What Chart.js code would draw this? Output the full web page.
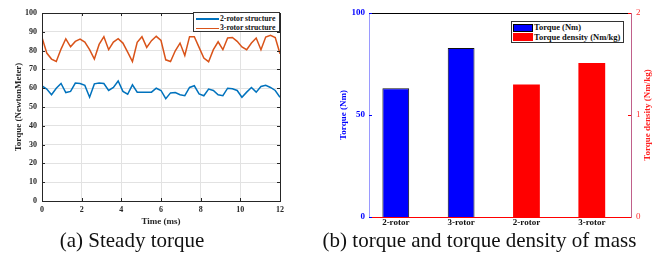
<!DOCTYPE html>
<html>
<head>
<meta charset="utf-8">
<script src="https://cdn.jsdelivr.net/npm/chart.js@4/dist/chart.umd.min.js"></script>
<style>
  body { margin: 0; width: 668px; height: 255px; background: #fff; position: relative; overflow: hidden; font-family: "Liberation Serif", "Times New Roman", serif; }
  .box { position: absolute; }
  .legend { position: absolute; background: #fff; border: 1px solid #333; box-sizing: border-box; font-weight: bold; color: #111; }
  .legend .row { position: absolute; white-space: nowrap; }
  .caption { position: absolute; top: 230px; font-size: 21px; line-height: 21px; text-align: center; color: #111; white-space: nowrap; }
</style>
</head>
<body>
<div class="box" style="left:0;top:0;width:300px;height:232px"><canvas id="chartTorque"></canvas></div>
<div class="box" style="left:300px;top:0;width:368px;height:232px"><canvas id="chartBars"></canvas></div>

<div class="legend" style="left:193px;top:12px;width:87px;height:20px;font-size:7.7px">
  <div style="position:absolute;left:2px;top:5px;width:23px;height:1.5px;background:#0072BD"></div>
  <div class="row" style="left:26px;top:1px">2-rotor structure</div>
  <div style="position:absolute;left:2px;top:14.5px;width:23px;height:1.5px;background:#D95319"></div>
  <div class="row" style="left:26px;top:10px">3-rotor structure</div>
</div>

<div class="legend" style="left:511px;top:21px;width:113px;height:22px;font-size:8.5px">
  <div style="position:absolute;left:1px;top:1.5px;width:20px;height:8px;background:#0000ff;border:1px solid #000;box-sizing:border-box"></div>
  <div class="row" style="left:22px;top:0px">Torque (Nm)</div>
  <div style="position:absolute;left:1px;top:11px;width:20px;height:8px;background:#ff0000"></div>
  <div class="row" style="left:22px;top:10px">Torque density (Nm/kg)</div>
</div>

<div class="caption" style="left:0;width:264px">(a) Steady torque</div>
<div class="caption" style="left:310px;width:339px">(b) torque and torque density of mass</div>

<script>
const serif = '"Liberation Serif", "Times New Roman", serif';

// (a) steady torque
const timeMs = [0, 0.24, 0.48, 0.72, 0.96, 1.2, 1.44, 1.68, 1.92, 2.16, 2.4, 2.64, 2.88, 3.12, 3.36, 3.6, 3.84,
  4.08, 4.32, 4.56, 4.8, 5.04, 5.28, 5.52, 5.76, 6, 6.24, 6.48, 6.72, 6.96, 7.2, 7.44, 7.68, 7.92, 8.16, 8.4,
  8.64, 8.88, 9.12, 9.36, 9.6, 9.84, 10.08, 10.32, 10.56, 10.8, 11.04, 11.28, 11.52, 11.76, 12];
const rotor2 = [61.3, 59.5, 56.5, 60, 62.5, 57.7, 58.3, 62.7, 62.5, 61.5, 55.2, 62.3, 62.7, 62.5, 58.8, 60.4, 63.8,
  58.3, 56.8, 61.8, 57.9, 57.9, 57.9, 57.9, 60, 58.8, 54.4, 57.5, 57.7, 56.5, 56, 60.4, 61.3, 57, 56, 59.5,
  58.8, 56.5, 56, 60, 59.7, 58.8, 55.2, 57.9, 60.4, 57.9, 60.9, 61.5, 60.4, 58.8, 55.2];
const rotor3 = [87, 78.7, 75.5, 74.2, 80.8, 86.3, 82, 84.9, 86.1, 84.5, 80.5, 75.5, 83.3, 87.4, 80.5, 84.5, 86.3,
  84, 79.2, 74.2, 84.4, 87.4, 81.7, 85.3, 87.6, 85.4, 75.1, 74.2, 79.9, 84, 77.4, 87.4, 87.4, 81.7, 76, 74.1,
  80.5, 84.7, 80.5, 86.7, 87, 84.9, 81.9, 80.5, 84, 86.7, 80.5, 87.2, 88.1, 87, 78.3];

// (b) torque and torque density
const categories = ['2-rotor', '3-rotor', '2-rotor', '3-rotor'];
const torqueNm = [63.1, 82.8];          // bars 1-2, left axis
const torqueDensity = [1.30, 1.51];     // bars 3-4, right axis

const boxTicks = {
  id: 'boxTicks',
  afterDraw(chart) {
    const {ctx, chartArea: a, scales} = chart;
    ctx.save();
    ctx.strokeStyle = '#262626';
    ctx.lineWidth = 1;
    ctx.strokeRect(Math.round(a.left) + 0.5, Math.round(a.top) + 0.5, Math.round(a.right - a.left), Math.round(a.bottom - a.top));
    ctx.beginPath();
    scales.y.ticks.forEach(t => {
      const p = Math.round(scales.y.getPixelForValue(t.value)) + 0.5;
      ctx.moveTo(a.left, p); ctx.lineTo(a.left + 3, p);
      ctx.moveTo(a.right, p); ctx.lineTo(a.right - 3, p);
    });
    scales.x.ticks.forEach(t => {
      const p = Math.round(scales.x.getPixelForValue(t.value)) + 0.5;
      ctx.moveTo(p, a.bottom); ctx.lineTo(p, a.bottom - 3);
      ctx.moveTo(p, a.top); ctx.lineTo(p, a.top + 3);
    });
    ctx.stroke();
    ctx.restore();
  }
};

new Chart(document.getElementById('chartTorque'), {
  type: 'line',
  data: {
    datasets: [
      { label: '2-rotor structure', data: timeMs.map((t, i) => ({x: t, y: rotor2[i]})), borderColor: '#0072BD', borderWidth: 1.5, pointRadius: 0 },
      { label: '3-rotor structure', data: timeMs.map((t, i) => ({x: t, y: rotor3[i]})), borderColor: '#D95319', borderWidth: 1.5, pointRadius: 0 }
    ]
  },
  options: {
    responsive: true,
    maintainAspectRatio: false,
    animation: false,
    layout: { padding: { left: 0, top: 13, right: 20, bottom: 0 } },
    plugins: { legend: { display: false }, tooltip: { enabled: false } },
    scales: {
      x: {
        type: 'linear', min: 0, max: 12,
        afterFit: s => { s.height = 31; },
        ticks: { stepSize: 2, color: '#262626', padding: 4, maxRotation: 0, font: { family: serif, size: 8, weight: 'bold' } },
        grid: { color: '#e2e2e2', drawTicks: false },
        border: { color: '#262626' },
        title: { display: true, text: 'Time (ms)', color: '#262626', padding: { top: 0, bottom: 5 }, font: { family: serif, size: 9, weight: 'bold' } }
      },
      y: {
        min: 0, max: 100,
        afterFit: s => { s.width = 42; },
        ticks: { stepSize: 10, color: '#262626', padding: 5, font: { family: serif, size: 8, weight: 'bold' } },
        grid: { color: '#e2e2e2', drawTicks: false },
        border: { color: '#262626' },
        title: { display: true, text: 'Torque (NewtonMeter)', color: '#262626', padding: { top: 13, bottom: 0 }, font: { family: serif, size: 9, weight: 'bold' } }
      }
    }
  },
  plugins: [boxTicks]
});

const barFrame = {
  id: 'barFrame',
  afterDraw(chart) {
    const {ctx, chartArea: a, scales} = chart;
    ctx.save();
    ctx.lineWidth = 1;
    ctx.strokeStyle = '#000';
    ctx.beginPath();
    ctx.moveTo(a.left, Math.round(a.top) + 0.5); ctx.lineTo(a.right, Math.round(a.top) + 0.5);
    ctx.stroke();
    ctx.strokeStyle = '#0000ff';
    ctx.beginPath();
    scales.y.ticks.forEach(t => {
      const p = Math.round(scales.y.getPixelForValue(t.value)) + 0.5;
      ctx.moveTo(a.left, p); ctx.lineTo(a.left + 3, p);
    });
    ctx.stroke();
    ctx.strokeStyle = '#ff0000';
    ctx.beginPath();
    scales.y1.ticks.forEach(t => {
      const p = Math.round(scales.y1.getPixelForValue(t.value)) + 0.5;
      ctx.moveTo(a.right, p); ctx.lineTo(a.right - 3, p);
    });
    ctx.stroke();
    // right axis title, read bottom to top
    ctx.fillStyle = '#ff2020';
    ctx.font = 'bold 9px ' + serif;
    ctx.textAlign = 'center';
    ctx.textBaseline = 'middle';
    ctx.translate(348, (a.top + a.bottom) / 2);
    ctx.rotate(-Math.PI / 2);
    ctx.fillText('Torque density (Nm/kg)', 0, 0);
    ctx.restore();
  }
};

const positions = categories.map((c, i) => i + 1);

new Chart(document.getElementById('chartBars'), {
  type: 'bar',
  data: {
    datasets: [
      { label: 'Torque (Nm)', data: torqueNm.map((v, i) => ({x: positions[i], y: v})), yAxisID: 'y',
        backgroundColor: '#0000ff', borderColor: '#111', borderWidth: 1 },
      { label: 'Torque density (Nm/kg)', data: torqueDensity.map((v, i) => ({x: positions[i + 2], y: v})), yAxisID: 'y1',
        backgroundColor: '#ff0000', borderColor: '#ff0000', borderWidth: 0 }
    ]
  },
  options: {
    responsive: true,
    maintainAspectRatio: false,
    animation: false,
    grouped: false,
    categoryPercentage: 1,
    barPercentage: 0.41,
    layout: { padding: { left: 0, top: 13, right: 0, bottom: 0 } },
    plugins: { legend: { display: false }, tooltip: { enabled: false } },
    scales: {
      x: {
        type: 'linear', min: 0.59, max: 4.6, offset: false,
        afterFit: s => { s.height = 15; },
        afterBuildTicks: s => { s.ticks = positions.map(v => ({value: v})); },
        ticks: { color: '#111', padding: 0, maxRotation: 0, autoSkip: false,
          callback: v => categories[v - 1], font: { family: serif, size: 9, weight: 'bold' } },
        grid: { display: false, drawTicks: false, offset: false },
        border: { color: '#ff0000' }
      },
      y: {
        position: 'left', min: 0, max: 100,
        afterFit: s => { s.width = 69; },
        ticks: { stepSize: 50, color: '#0000ff', padding: 4, font: { family: serif, size: 9, weight: 'bold' } },
        grid: { display: false, drawTicks: false },
        border: { color: '#9a9aff' },
        title: { display: true, text: 'Torque (Nm)', color: '#0000ff', padding: { top: 38, bottom: 0 }, font: { family: serif, size: 9, weight: 'bold' } }
      },
      y1: {
        position: 'right', min: 0, max: 2,
        afterFit: s => { s.width = 37; },
        ticks: { stepSize: 1, color: '#ff3030', padding: 5, font: { family: serif, size: 9 } },
        grid: { display: false, drawTicks: false },
        border: { color: '#c0608a' }
      }
    }
  },
  plugins: [barFrame]
});
</script>
</body>
</html>
